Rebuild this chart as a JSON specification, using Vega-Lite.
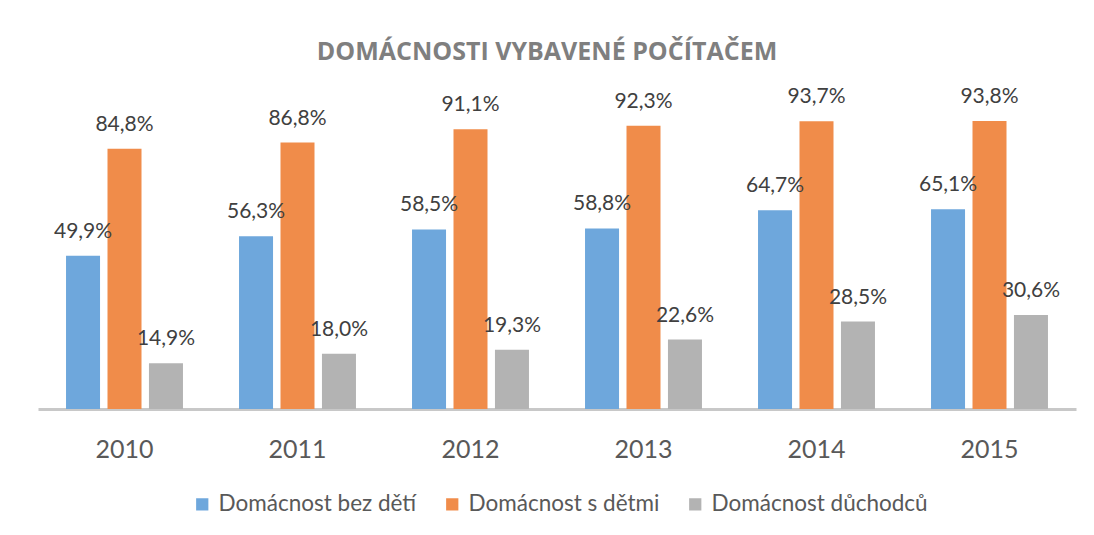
{
  "$schema": "https://vega.github.io/schema/vega-lite/v6.json",
  "width": 1038,
  "height": 307,
  "autosize": "none",
  "padding": {"left": 38, "top": 102, "right": 18, "bottom": 126},
  "background": "white",
  "config": {
    "locale": {"number": {"decimal": ",", "thousands": " ", "grouping": [3], "currency": ["", " Kč"]}},
    "view": {"stroke": null},
    "font": "Lato"
  },
  "title": {
    "text": "DOMÁCNOSTI VYBAVENÉ POČÍTAČEM",
    "font": "Open Sans",
    "fontSize": 25,
    "fontWeight": "bold",
    "color": "#7f7f7f",
    "offset": 21,
    "dx": -10
  },
  "data": {
    "values": [
      {"rok": "2010", "typ": "Domácnost bez dětí", "podil": 0.499},
      {"rok": "2010", "typ": "Domácnost s dětmi", "podil": 0.848},
      {"rok": "2010", "typ": "Domácnost důchodců", "podil": 0.149},
      {"rok": "2011", "typ": "Domácnost bez dětí", "podil": 0.563},
      {"rok": "2011", "typ": "Domácnost s dětmi", "podil": 0.868},
      {"rok": "2011", "typ": "Domácnost důchodců", "podil": 0.180},
      {"rok": "2012", "typ": "Domácnost bez dětí", "podil": 0.585},
      {"rok": "2012", "typ": "Domácnost s dětmi", "podil": 0.911},
      {"rok": "2012", "typ": "Domácnost důchodců", "podil": 0.193},
      {"rok": "2013", "typ": "Domácnost bez dětí", "podil": 0.588},
      {"rok": "2013", "typ": "Domácnost s dětmi", "podil": 0.923},
      {"rok": "2013", "typ": "Domácnost důchodců", "podil": 0.226},
      {"rok": "2014", "typ": "Domácnost bez dětí", "podil": 0.647},
      {"rok": "2014", "typ": "Domácnost s dětmi", "podil": 0.937},
      {"rok": "2014", "typ": "Domácnost důchodců", "podil": 0.285},
      {"rok": "2015", "typ": "Domácnost bez dětí", "podil": 0.651},
      {"rok": "2015", "typ": "Domácnost s dětmi", "podil": 0.938},
      {"rok": "2015", "typ": "Domácnost důchodců", "podil": 0.306}
    ]
  },
  "encoding": {
    "x": {
      "field": "rok",
      "type": "nominal",
      "scale": {"paddingInner": 0.324, "paddingOuter": 0.162},
      "axis": {
        "title": null,
        "labelAngle": 0,
        "labelFontSize": 25,
        "labelColor": "#595959",
        "labelBaseline": "alphabetic",
        "labelPadding": 48,
        "ticks": false,
        "domainColor": "#c8c8c8",
        "domainWidth": 3
      }
    },
    "xOffset": {
      "field": "typ",
      "type": "nominal",
      "scale": {"domain": ["Domácnost bez dětí", "Domácnost s dětmi", "Domácnost důchodců"], "paddingInner": 0.18, "paddingOuter": 0}
    },
    "y": {"field": "podil", "type": "quantitative", "scale": {"domain": [0, 1]}, "axis": null}
  },
  "layer": [
    {
      "mark": {"type": "bar"},
      "encoding": {
        "color": {
          "field": "typ",
          "type": "nominal",
          "scale": {
            "domain": ["Domácnost bez dětí", "Domácnost s dětmi", "Domácnost důchodců"],
            "range": ["#6ea7dc", "#f08c4a", "#b3b3b3"]
          },
          "legend": {
            "orient": "none",
            "legendX": 153,
            "legendY": 391,
            "direction": "horizontal",
            "title": null,
            "symbolType": "square",
            "symbolSize": 150,
            "symbolStrokeWidth": 0,
            "labelFontSize": 22.5,
            "labelLimit": 0,
            "labelColor": "#595959",
            "labelOffset": 5,
            "columnPadding": 24
          }
        }
      }
    },
    {
      "mark": {"type": "text", "dy": -18, "baseline": "alphabetic", "fontSize": 21, "color": "#404040"},
      "encoding": {"text": {"field": "podil", "type": "quantitative", "format": ".1%"}}
    }
  ]
}
